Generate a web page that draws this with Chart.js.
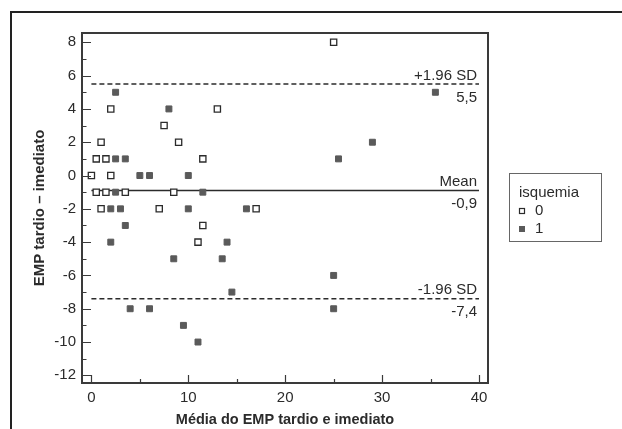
<!DOCTYPE html>
<html>
<head>
<meta charset="utf-8">
<script src="https://cdn.jsdelivr.net/npm/chart.js@4.4.1/dist/chart.umd.min.js"></script>
<style>
  html, body { margin: 0; padding: 0; background: #fff; }
  canvas { display: block; }
</style>
</head>
<body>
<canvas id="bland" width="622" height="429"></canvas>
<script>
// isquemia = 0 (open squares)
const openX = [0, 0.5, 0.5, 1, 1, 1.5, 1.5, 2, 2, 3.5, 7, 7.5, 8.5, 9, 11, 11.5, 11.5, 13, 17, 25];
const openY = [0, 1, -1, 2, -2, 1, -1, 4, 0, -1, -2, 3, -1, 2, -4, 1, -3, 4, -2, 8];
// isquemia = 1 (filled squares)
const fillX = [2, 2, 2.5, 2.5, 2.5, 3, 3.5, 3.5, 4, 5, 6, 6, 8, 8.5, 9.5, 10, 10, 11, 11.5, 13.5, 14, 14.5, 16, 25, 25, 25.5, 29, 35.5];
const fillY = [-2, -4, 5, 1, -1, -2, 1, -3, -8, 0, 0, -8, 4, -5, -9, 0, -2, -10, -1, -5, -4, -7, -2, -6, -8, 1, 2, 5];

// mean and limits of agreement
const limitValues = [5.5, -0.9, -7.4];
const limitNames = ["+1.96 SD", "Mean", "-1.96 SD"];
const limitTexts = ["5,5", "-0,9", "-7,4"];
const lineSpan = [0, 40];

const legendTitle = "isquemia";
const groupNames = ["0", "1"];

const ink = "#2b2b2b";
const fillGrey = "#5a5a5a";

const toPoints = (xs, ys) => xs.map((x, i) => ({ x: x, y: ys[i] }));
const limitLine = (v) => lineSpan.map((x) => ({ x: x, y: v }));

// frame, inside ticks, line labels and legend box
const decor = {
  id: "decor",
  afterDraw(chart) {
    const ctx = chart.ctx;
    const a = chart.chartArea;
    const xs = chart.scales.x;
    const ys = chart.scales.y;
    ctx.save();

    // outer frame (only left and top edges visible)
    ctx.strokeStyle = "#222";
    ctx.lineWidth = 2;
    ctx.beginPath();
    ctx.moveTo(11, 429);
    ctx.lineTo(11, 12);
    ctx.lineTo(622, 12);
    ctx.stroke();

    // plot border
    ctx.strokeStyle = "#3a3a3a";
    ctx.lineWidth = 2;
    ctx.strokeRect(a.left, a.top, a.right - a.left, a.bottom - a.top);

    // ticks pointing inward
    ctx.lineWidth = 1.2;
    ctx.beginPath();
    ys.ticks.forEach((t) => {
      const py = Math.round(ys.getPixelForValue(t.value)) + 0.5;
      const len = t.value % 2 === 0 ? 9 : 4.5;
      ctx.moveTo(a.left, py);
      ctx.lineTo(a.left + len, py);
    });
    xs.ticks.forEach((t) => {
      const px = Math.round(xs.getPixelForValue(t.value)) + 0.5;
      const len = t.value % 10 === 0 ? 8 : 4;
      ctx.moveTo(px, a.bottom);
      ctx.lineTo(px, a.bottom - len);
    });
    ctx.stroke();

    // line labels
    ctx.fillStyle = ink;
    ctx.font = "15px 'Liberation Sans', Arial, sans-serif";
    ctx.textAlign = "right";
    const rx = xs.getPixelForValue(lineSpan[1]) - 2;
    limitValues.forEach((v, i) => {
      const py = ys.getPixelForValue(v);
      ctx.textBaseline = "bottom";
      ctx.fillText(limitNames[i], rx, py - 1);
      ctx.textBaseline = "top";
      ctx.fillText(limitTexts[i], rx, py + 6);
    });

    // legend box
    ctx.strokeStyle = "#666";
    ctx.lineWidth = 1;
    ctx.strokeRect(509.5, 173.5, 92, 68);
    ctx.textAlign = "left";
    ctx.textBaseline = "middle";
    ctx.fillText(legendTitle, 519, 193);
    groupNames.forEach((g, i) => {
      const cy = 211 + i * 18;
      if (i === 0) {
        ctx.fillStyle = "#fff";
        ctx.fillRect(519.5, cy - 2.5, 5, 5);
        ctx.strokeStyle = ink;
        ctx.lineWidth = 1.2;
        ctx.strokeRect(519.5, cy - 2.5, 5, 5);
      } else {
        ctx.fillStyle = fillGrey;
        ctx.fillRect(519, cy - 3, 6, 6);
      }
      ctx.fillStyle = ink;
      ctx.fillText(g, 535, cy);
    });

    ctx.restore();
  },
};

new Chart(document.getElementById("bland"), {
  type: "scatter",
  data: {
    datasets: [
      {
        label: "0",
        data: toPoints(openX, openY),
        pointStyle: "rect",
        pointRadius: 4.4,
        backgroundColor: "#fff",
        borderColor: ink,
        borderWidth: 1.3,
      },
      {
        label: "1",
        data: toPoints(fillX, fillY),
        pointStyle: "rect",
        pointRadius: 4.2,
        backgroundColor: fillGrey,
        borderColor: fillGrey,
        borderWidth: 1,
      },
      {
        type: "line",
        data: limitLine(limitValues[0]),
        borderColor: ink,
        borderWidth: 1.6,
        borderDash: [5, 3],
        pointRadius: 0,
      },
      {
        type: "line",
        data: limitLine(limitValues[1]),
        borderColor: ink,
        borderWidth: 1.6,
        pointRadius: 0,
      },
      {
        type: "line",
        data: limitLine(limitValues[2]),
        borderColor: ink,
        borderWidth: 1.6,
        borderDash: [5, 3],
        pointRadius: 0,
      },
    ],
  },
  options: {
    responsive: false,
    animation: false,
    devicePixelRatio: 1,
    layout: { padding: { top: 33, right: 134, left: 0, bottom: 0 } },
    plugins: { legend: { display: false }, tooltip: { enabled: false } },
    scales: {
      x: {
        type: "linear",
        min: -0.97,
        max: 40.93,
        afterFit: (s) => { s.height = 46; },
        grid: { display: false, drawTicks: false },
        border: { display: false },
        ticks: {
          stepSize: 5,
          includeBounds: false,
          autoSkip: false,
          padding: 6,
          color: ink,
          font: { family: "'Liberation Sans', Arial, sans-serif", size: 15 },
          callback: (v) => (v % 10 === 0 ? String(v) : ""),
        },
        title: {
          display: true,
          text: "Média do EMP tardio e imediato",
          color: ink,
          padding: { top: 0, bottom: 0 },
          font: { family: "'Liberation Sans', Arial, sans-serif", size: 14.5, weight: "bold" },
        },
      },
      y: {
        type: "linear",
        min: -12.46,
        max: 8.56,
        afterFit: (s) => { s.width = 82; },
        grid: { display: false, drawTicks: false },
        border: { display: false },
        ticks: {
          stepSize: 1,
          includeBounds: false,
          autoSkip: false,
          padding: 6,
          color: ink,
          font: { family: "'Liberation Sans', Arial, sans-serif", size: 15 },
          callback: (v) => (v % 2 === 0 ? String(v) : ""),
        },
        title: {
          display: true,
          text: "EMP tardio – imediato",
          color: ink,
          padding: { top: 31, bottom: 0 },
          font: { family: "'Liberation Sans', Arial, sans-serif", size: 15, weight: "bold" },
        },
      },
    },
  },
  plugins: [decor],
});
</script>
</body>
</html>
